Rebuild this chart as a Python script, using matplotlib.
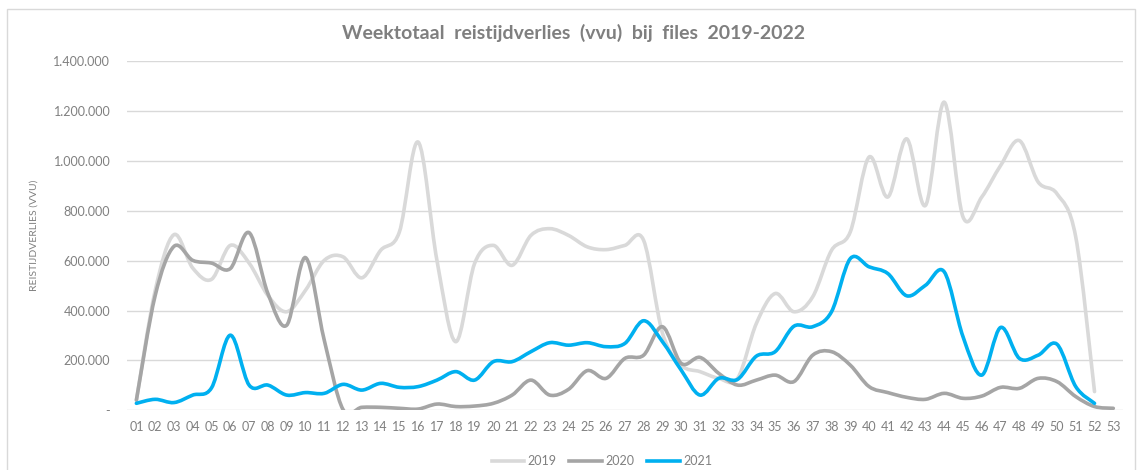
import matplotlib
matplotlib.use('Agg')
from matplotlib import pyplot as plt
from matplotlib.path import Path
from matplotlib.patches import PathPatch, Rectangle
from matplotlib.lines import Line2D
from matplotlib.ticker import FuncFormatter

weeks = ['%02d' % w for w in range(1, 54)]

y2019 = [40000, 480000, 704000, 570000, 525000, 661000, 590000, 460000, 395000, 481000,
         601000, 615000, 531000, 641000, 715000, 1075000, 600000, 275000, 588000, 661000,
         581000, 701000, 728000, 701000, 655000, 644000, 661000, 681000, 310000, 181000,
         155000, 128000, 128000, 348000, 468000, 395000, 455000, 641000, 715000, 1015000,
         855000, 1088000, 821000, 1235000, 775000, 855000, 981000, 1081000, 915000, 868000,
         695000, 75000]

y2020 = [41000, 460000, 657000, 601000, 590000, 568000, 712000, 468000, 341000, 612000,
         281000, 3000, 12000, 12000, 8000, 5000, 25000, 15000, 17000, 28000,
         61000, 121000, 61000, 84000, 159000, 128000, 208000, 221000, 335000, 188000,
         212000, 148000, 101000, 121000, 141000, 115000, 221000, 235000, 181000, 95000,
         71000, 52000, 44000, 68000, 48000, 57000, 92000, 88000, 128000, 115000,
         55000, 15000, 8000]

y2021 = [28000, 44000, 31000, 61000, 90000, 301000, 101000, 101000, 61000, 71000,
         68000, 104000, 81000, 108000, 92000, 95000, 121000, 155000, 121000, 195000,
         195000, 235000, 271000, 261000, 271000, 255000, 268000, 359000, 275000, 161000,
         61000, 128000, 124000, 217000, 235000, 337000, 335000, 395000, 608000, 575000,
         548000, 459000, 501000, 555000, 295000, 141000, 332000, 208000, 221000, 265000,
         95000, 28000]

series = [('2019', y2019, '#d9d9d9'), ('2020', y2020, '#a5a5a5'), ('2021', y2021, '#00b0f0')]


def smooth_path(xs, ys):
    # bezier curve through the points, like Excel's "smoothed line"
    verts = [(xs[0], ys[0])]
    codes = [Path.MOVETO]
    n = len(xs)
    for i in range(n - 1):
        a = i - 1 if i > 0 else i
        d = i + 2 if i + 2 < n else i + 1
        c1 = (xs[i] + (xs[i + 1] - xs[a]) / 6.0, ys[i] + (ys[i + 1] - ys[a]) / 6.0)
        c2 = (xs[i + 1] - (xs[d] - xs[i]) / 6.0, ys[i + 1] - (ys[d] - ys[i]) / 6.0)
        verts += [c1, c2, (xs[i + 1], ys[i + 1])]
        codes += [Path.CURVE4] * 3
    return Path(verts, codes)


plt.rcParams['font.family'] = ['Lato', 'DejaVu Sans']

fig = plt.figure(figsize=(11.38, 4.70), dpi=100)
ax = fig.add_axes([127 / 1138, 1 - 410.3 / 470, 995.7 / 1138, 349.3 / 470])

handles = []
for name, vals, col in series:
    xs = list(range(1, len(vals) + 1))
    ax.add_patch(PathPatch(smooth_path(xs, vals), fill=False, edgecolor=col,
                           linewidth=2.6, capstyle='round', joinstyle='round', zorder=3))
    handles.append(Line2D([], [], color=col, linewidth=2.6, label=name))

ax.set_xlim(0.5, 53.5)
ax.set_ylim(0, 1400000)
ax.set_xticks(range(1, 54))
ax.set_xticklabels(weeks)
ax.set_yticks(range(0, 1400001, 200000))


def fmt(v, pos):
    if v == 0:
        return '-'
    return '{:,.0f}'.format(v).replace(',', '.')


ax.yaxis.set_major_formatter(FuncFormatter(fmt))
ax.grid(axis='y', color='#d9d9d9', linewidth=1.0, zorder=0)
for s in ax.spines.values():
    s.set_visible(False)
ax.tick_params(axis='both', length=0, labelsize=9, labelcolor='#808080')
ax.tick_params(axis='y', pad=12)
ax.tick_params(axis='x', pad=8)

ax.set_ylabel('REISTIJDVERLIES (VVU)', fontsize=7.5, color='#808080')
ax.yaxis.set_label_coords(-88 / 995.7, 0.5)

fig.text(573 / 1138, 1 - 33 / 470, 'Weektotaal  reistijdverlies  (vvu)  bij  files  2019-2022',
         ha='center', va='center', fontsize=14, fontweight='bold', color='#7f7f7f')

fig.legend(handles=handles, loc='center', bbox_to_anchor=(602 / 1138, 1 - 461 / 470),
           ncol=3, frameon=False, fontsize=9, handlelength=2.6, columnspacing=1.0,
           handletextpad=0.3, labelcolor='#808080')

fig.add_artist(Rectangle((7 / 1138, -0.02), 1128 / 1138, 1.02 - 9 / 470,
                         transform=fig.transFigure, fill=False, edgecolor='#d9d9d9',
                         linewidth=1.0))

plt.savefig('out.png', dpi=100)
